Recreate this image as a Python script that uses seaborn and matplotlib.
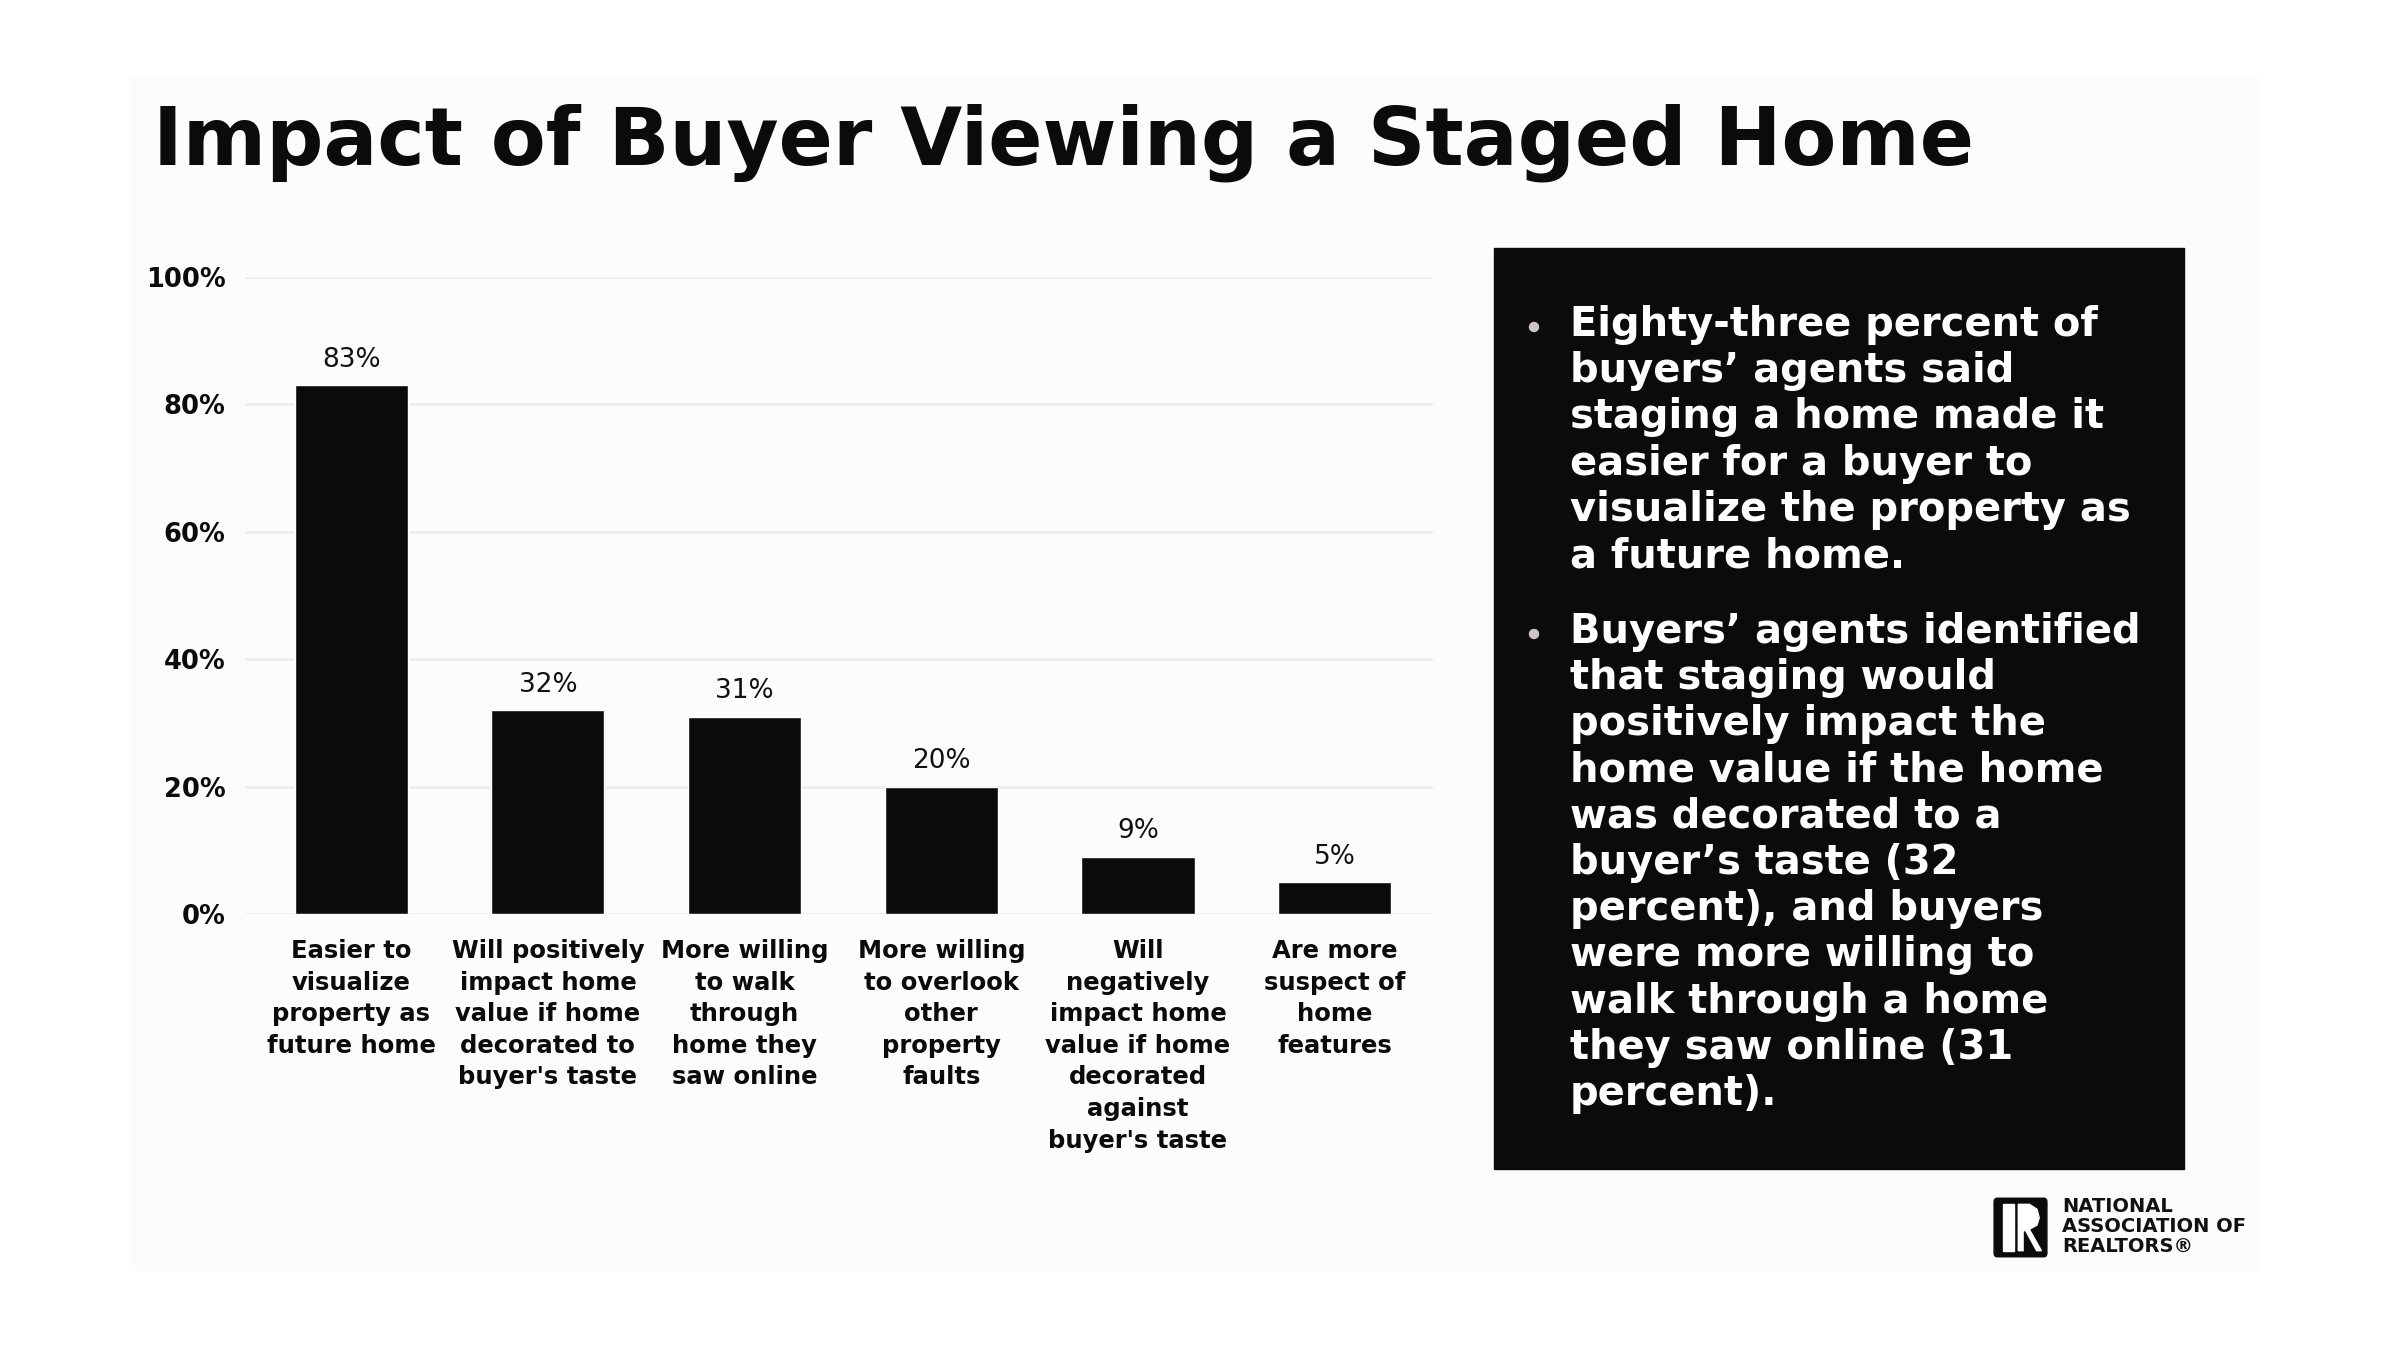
import matplotlib.pyplot as plt
import matplotlib.patches as mpatches
import seaborn as sns
from matplotlib.ticker import FuncFormatter

# data
categories = [
    'Easier to\nvisualize\nproperty as\nfuture home',
    'Will positively\nimpact home\nvalue if home\ndecorated to\nbuyer\'s taste',
    'More willing\nto walk\nthrough\nhome they\nsaw online',
    'More willing\nto overlook\nother\nproperty\nfaults',
    'Will\nnegatively\nimpact home\nvalue if home\ndecorated\nagainst\nbuyer\'s taste',
    'Are more\nsuspect of\nhome\nfeatures',
]
values = [83, 32, 31, 20, 9, 5]
y_ticks = [0, 20, 40, 60, 80, 100]

title = 'Impact of Buyer Viewing a Staged Home'
bullets = [
    'Eighty-three percent of\nbuyers\u2019 agents said\nstaging a home made it\neasier for a buyer to\nvisualize the property as\na future home.',
    'Buyers\u2019 agents identified\nthat staging would\npositively impact the\nhome value if the home\nwas decorated to a\nbuyer\u2019s taste (32\npercent), and buyers\nwere more willing to\nwalk through a home\nthey saw online (31\npercent).',
]

sns.set_theme(style='white')
plt.rcParams['font.family'] = ['DejaVu Sans']

W, H = 2400, 1350
INK = '#0b0b0b'
fig = plt.figure(figsize=(24, 13.5), dpi=100)
fig.patch.set_facecolor('white')

# faint slide panel behind everything
fig.patches.append(mpatches.Rectangle((130 / W, 1 - 1270 / H), 2128 / W, 1193 / H,
                                      transform=fig.transFigure, color='#fcfcfc', zorder=-5))

fig.text(153 / W, 1 - 165 / H, title, fontsize=57.6, fontweight='bold', color=INK,
         ha='left', va='baseline')

ax = fig.add_axes([245 / W, 1 - 914 / H, (1433 - 245) / W, (914 - 277) / H])
ax.set_facecolor('none')
sns.barplot(x=categories, y=values, color=INK, saturation=1, width=0.575, ax=ax, zorder=3)
ax.set_xlim(-0.54, 5.5)
ax.set_ylim(0, 100)
ax.set_yticks(y_ticks)
ax.yaxis.set_major_formatter(FuncFormatter(lambda v, p: '{:d}%'.format(int(v))))
ax.yaxis.grid(True, color='#eeeeee', lw=2, zorder=0)
ax.xaxis.grid(False)
for s in ax.spines.values():
    s.set_visible(False)
ax.tick_params(axis='y', length=0, pad=14, labelsize=18.5, labelcolor=INK)
ax.tick_params(axis='x', length=0, pad=18, labelsize=17.5, labelcolor=INK)
for lab in ax.get_yticklabels():
    lab.set_fontweight('bold')
for lab in ax.get_xticklabels():
    lab.set_fontweight('bold')
    lab.set_linespacing(1.4)
ax.set_xlabel('')
ax.set_ylabel('')
ax.bar_label(ax.containers[0], fmt='%d%%', padding=9, fontsize=19, color='#111111')

# black commentary box
fig.patches.append(mpatches.Rectangle((1494 / W, 1 - 1169 / H), 690 / W, 921 / H,
                                      transform=fig.transFigure, color=INK, zorder=-1))
para_top = [305, 612]
for txt, top in zip(bullets, para_top):
    fig.text(1570 / W, 1 - top / H, txt, fontsize=28.8, fontweight='bold', color='white',
             ha='left', va='top', linespacing=1.2, zorder=2)
    fig.patches.append(mpatches.Ellipse((1534 / W, 1 - (top + 22) / H), 9 / W, 9 / H,
                                        transform=fig.transFigure, color='#cdc5c5', zorder=2))

# logo
lax = fig.add_axes([1993 / W, 1 - 1258 / H, 55 / W, 61 / H])
lax.set_xlim(0, 1)
lax.set_ylim(0, 1)
lax.axis('off')
lax.add_patch(mpatches.FancyBboxPatch((0.02, 0.02), 0.96, 0.96, boxstyle='round,pad=0,rounding_size=0.06',
                                      color=INK))
lax.add_patch(mpatches.Rectangle((0.18, 0.12), 0.2, 0.76, color='white'))
lax.add_patch(mpatches.Polygon([(0.46, 0.88), (0.66, 0.88), (0.8, 0.8), (0.84, 0.66), (0.8, 0.54),
                                (0.66, 0.47), (0.88, 0.12), (0.46, 0.12)], closed=True, color='white'))
lax.add_patch(mpatches.Polygon([(0.56, 0.45), (0.56, 0.12), (0.76, 0.12)], closed=True, color=INK))
fig.text(2062 / W, 1 - 1197 / H, 'NATIONAL\nASSOCIATION OF\nREALTORS\u00ae', fontsize=14,
         fontweight='bold', color='#111111', ha='left', va='top', linespacing=1.05)

fig.savefig('out.png', dpi=100, facecolor='white')
